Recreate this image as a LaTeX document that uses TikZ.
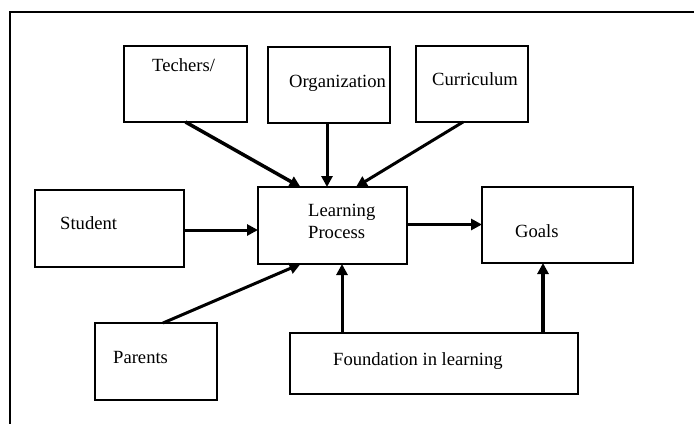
\documentclass[tikz,border=0pt]{standalone}
\usepackage{fontspec}
\setmainfont{Liberation Serif}
\usetikzlibrary{arrows.meta}
\tikzset{
  box/.style={draw, line width=1.8pt, rectangle, inner sep=0pt, outer sep=0pt},
  lbl/.style={anchor=base west, inner sep=0pt, font=\fontsize{18.6}{22}\selectfont},
  conn/.style={line width=3pt, -{Triangle[length=11pt,width=11pt]}},
  frame/.style={line width=1.5pt}
}
\begin{document}
\begin{tikzpicture}[x=1pt,y=-1pt]
\useasboundingbox (0,0) rectangle (694,424);
\draw[frame] (694,12) -- (10,12) -- (10,424);
% boxes
\node[box, minimum width=123, minimum height=76] (tch) at (185.5,84) {};
\node[box, minimum width=122, minimum height=76] (org) at (329,85) {};
\node[box, minimum width=112, minimum height=76] (cur) at (472,84) {};
\node[box, minimum width=149, minimum height=77] (stu) at (109.5,228.5) {};
\node[box, minimum width=149, minimum height=77] (lp) at (332.5,225.5) {};
\node[box, minimum width=151, minimum height=76] (goa) at (557.5,225) {};
\node[box, minimum width=122, minimum height=77] (par) at (156,361.5) {};
\node[box, minimum width=288, minimum height=61] (fou) at (434,363.5) {};
% labels
\node[lbl] (ttch) at (152,71) {Techers/};
\node[lbl] (torg) at (289,87) {Organization};
\node[lbl] (tcur) at (432,85) {Curriculum};
\node[lbl] (tstu) at (60,229) {Student};
\node[lbl] (tlp1) at (308,216) {Learning};
\node[lbl] (tlp2) at (308,238) {Process};
\node[lbl] (tgoa) at (515,237) {Goals};
\node[lbl] (tpar) at (113,363) {Parents};
\node[lbl] (tfou) at (333,365) {Foundation in learning};
% connectors
\draw[conn, line width=3.5pt] (tch.south) -- ([xshift=-32]lp.north);
\draw[conn] ([xshift=-2]org.south) -- ([xshift=-2]org.south |- lp.north);
\draw[conn] ([xshift=-9]cur.south) -- ([xshift=23.5]lp.north);
\draw[conn] ([yshift=-1.5]stu.east) -- ([yshift=-1.5]stu.east -| lp.west);
\draw[conn] ([yshift=1]lp.east) -- ([yshift=1]lp.east -| goa.west);
\draw[conn] ([xshift=7]par.north) -- ([xshift=-32]lp.south);
\draw[conn] ([xshift=-92]fou.north) -- ([xshift=-92]fou.north |- lp.south);
\draw[conn, line width=4pt] ([xshift=109]fou.north) -- ([xshift=109]fou.north |- goa.south);
\end{tikzpicture}
\end{document}
